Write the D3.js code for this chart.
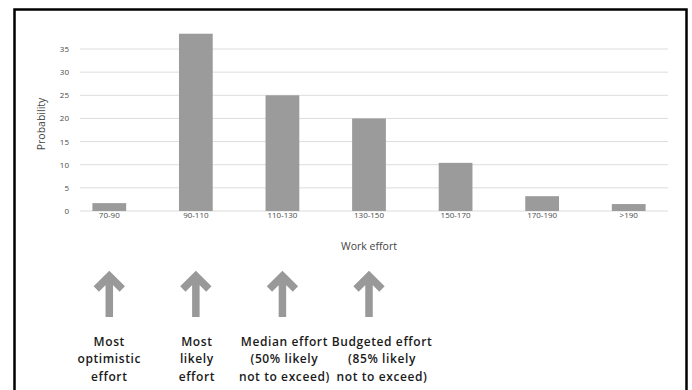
<!DOCTYPE html>
<html>
<head>
<meta charset="utf-8">
<script src="https://cdn.jsdelivr.net/npm/d3@7"></script>
<style>
  html, body { margin: 0; padding: 0; background: #fff; }
  svg { display: block; }
</style>
</head>
<body>
<svg id="chart" width="692" height="390"></svg>
<script>
// Effort distribution: probability (%) per work-effort bucket
const categories = ["70-90", "90-110", "110-130", "130-150", "150-170", "170-190", ">190"];
const probability = [1.7, 38.3, 25, 20, 10.4, 3.2, 1.5];
const yTicks = [0, 5, 10, 15, 20, 25, 30, 35];

// Callouts pointing up at buckets
const markerBuckets = ["70-90", "90-110", "110-130", "130-150"];
const markerLabels = [
  ["Most", "optimistic", "effort"],
  ["Most", "likely", "effort"],
  ["Median effort", "(50% likely", "not to exceed)"],
  ["Budgeted effort", "(85% likely", "not to exceed)"]
];

const svg = d3.select("#chart");

// Outer frame (open at the bottom edge of the page)
svg.append("path")
  .attr("d", "M14.5,400 L14.5,9.5 L686.5,9.5 L686.5,400")
  .attr("fill", "none")
  .attr("stroke", "#000")
  .attr("stroke-width", 2.5);

const x = d3.scaleBand()
  .domain(categories)
  .range([66, 672])
  .paddingInner(0.61)
  .paddingOuter(0.305);

const y = d3.scaleLinear()
  .domain([0, 35])
  .range([211, 49]);

const gridLeft = 80, gridRight = 668;

// Horizontal gridlines
svg.append("g")
  .selectAll("line")
  .data(yTicks)
  .join("line")
  .attr("x1", gridLeft)
  .attr("x2", gridRight)
  .attr("y1", d => y(d))
  .attr("y2", d => y(d))
  .attr("stroke", "#dcdcdc")
  .attr("stroke-width", 1);

// Y axis labels
const yAxis = d3.axisLeft(y).tickValues(yTicks).tickSize(0).tickPadding(0);
svg.append("g")
  .attr("transform", "translate(69,0)")
  .call(yAxis)
  .call(g => g.select(".domain").remove())
  .call(g => g.selectAll("text")
    .attr("font-family", "'Open Sans', sans-serif")
    .attr("font-size", 8)
    .attr("fill", "#4a4a4a"));

// Bars
svg.append("g")
  .selectAll("rect")
  .data(categories)
  .join("rect")
  .attr("x", d => x(d))
  .attr("width", x.bandwidth())
  .attr("y", (d, i) => y(probability[i]))
  .attr("height", (d, i) => y(0) - y(probability[i]))
  .attr("fill", "#9b9b9b");

// X axis labels
const xAxis = d3.axisBottom(x).tickSize(0).tickPadding(0);
svg.append("g")
  .attr("transform", "translate(0,212)")
  .call(xAxis)
  .call(g => g.select(".domain").remove())
  .call(g => g.selectAll("text")
    .attr("font-family", "'Open Sans', sans-serif")
    .attr("font-size", 8)
    .attr("fill", "#4a4a4a"));

// Axis titles
svg.append("text")
  .attr("transform", "translate(45,124) rotate(-90)")
  .attr("text-anchor", "middle")
  .attr("font-family", "'Open Sans', sans-serif")
  .attr("font-size", 10.5)
  .attr("fill", "#444")
  .text("Probability");

svg.append("text")
  .attr("x", 369)
  .attr("y", 250)
  .attr("text-anchor", "middle")
  .attr("font-family", "'Open Sans', sans-serif")
  .attr("font-size", 10.5)
  .attr("fill", "#444")
  .text("Work effort");

// Up arrows under the chosen buckets
const arrowX = d => x(d) + x.bandwidth() / 2;
svg.append("g")
  .selectAll("path")
  .data(markerBuckets)
  .join("path")
  .attr("d", d => {
    const cx = arrowX(d);
    return `M${cx},317 L${cx},276 M${cx - 13},289 L${cx},276 L${cx + 13},289`;
  })
  .attr("fill", "none")
  .attr("stroke", "#999")
  .attr("stroke-width", 7.5)
  .attr("stroke-linejoin", "miter")
  .attr("stroke-linecap", "butt");

// Callout labels
const labelOffsets = [0, 1, 2, 13];
const labels = svg.append("g")
  .selectAll("text")
  .data(markerBuckets)
  .join("text")
  .attr("text-anchor", "middle")
  .attr("font-family", "'Open Sans', sans-serif")
  .attr("font-weight", 600)
  .attr("font-size", 12)
  .attr("letter-spacing", 0.6)
  .attr("fill", "#1a1a1a");

labels.each(function (d, i) {
  const cx = arrowX(d) + labelOffsets[i];
  d3.select(this).selectAll("tspan")
    .data(markerLabels[i])
    .join("tspan")
    .attr("x", cx)
    .attr("y", (t, j) => 346 + j * 17.3)
    .text(t => t);
});
</script>
</body>
</html>
